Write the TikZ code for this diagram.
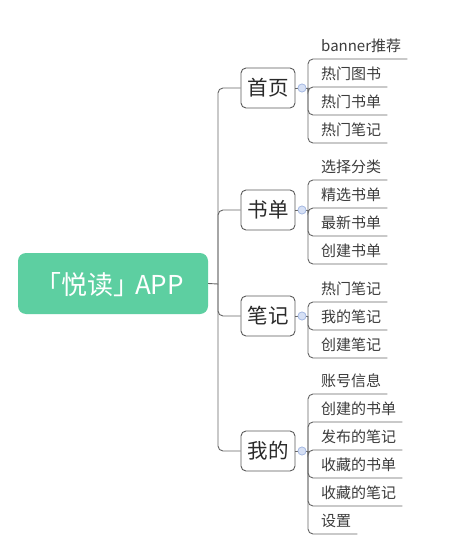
\documentclass[tikz,border=0pt]{standalone}
\usepackage{fontspec}
\setmainfont{Noto Sans CJK SC}
\definecolor{rootgreen}{HTML}{5DCFA1}
\definecolor{linegray}{HTML}{666666}
\definecolor{boxgray}{HTML}{5A5A5A}
\definecolor{textdark}{HTML}{2A2A2A}
\definecolor{textgray}{HTML}{3C3C3C}
\definecolor{dotfill}{HTML}{D6E0F5}
\definecolor{dotdraw}{HTML}{A3B7E2}
\newcommand{\lt}[1]{\hspace*{13pt}#1\hspace*{6pt}}
\begin{document}
\begin{tikzpicture}[x=1pt,y=-1pt,
  conn/.style={draw=linegray, line width=0.9pt, rounded corners=5pt},
  rootbox/.style={fill=rootgreen, rounded corners=8pt, minimum width=190pt, minimum height=61pt, inner sep=0pt,
    text=white, font=\fontsize{26}{26}\selectfont, text height=22.8pt, text depth=1pt},
  topic/.style={draw=boxgray, fill=white, rounded corners=5pt, minimum width=54pt, minimum height=40pt, inner sep=0pt,
    line width=0.9pt, text=textdark, font=\fontsize{20.5}{20.5}\selectfont, text height=17.8pt, text depth=2.2pt},
  dot/.style={circle, fill=dotfill, draw=dotdraw, line width=0.6pt, minimum size=8pt, inner sep=0pt},
  leaf/.style={anchor=south west, inner sep=0pt, text height=11pt, text depth=7.5pt, text=textgray,
    font=\fontsize{15}{15}\selectfont}]
\useasboundingbox (0,0) rectangle (452,545);
\fill[white] (0,0) rectangle (452,545);

% root
\node[rootbox] (root) at (113,283.5) {「悦读」\kern-4pt APP\hspace*{7pt}};
\coordinate (J0) at (218,284);

% topics
\node[topic] (t1) at (268,88) {首页};
\node[topic] (t2) at (268,210) {书单};
\node[topic] (t3) at (268,316) {笔记};
\node[topic] (t4) at (268,451) {我的};

\node[dot] (c1) at (302,88) {};
\node[dot] (c2) at (302,210) {};
\node[dot] (c3) at (302,316) {};
\node[dot] (c4) at (302,451) {};

\coordinate (j1) at (308,88);
\coordinate (j2) at (308,210);
\coordinate (j3) at (308,316);
\coordinate (j4) at (308,451);

% leaves
\node[leaf] (a1) at (308,59) {\lt{banner推荐}};
\node[leaf] (a2) at (308,87) {\lt{热门图书}};
\node[leaf] (a3) at (308,115) {\lt{热门书单}};
\node[leaf] (a4) at (308,143) {\lt{热门笔记}};

\node[leaf] (b1) at (308,180) {\lt{选择分类}};
\node[leaf] (b2) at (308,208) {\lt{精选书单}};
\node[leaf] (b3) at (308,236) {\lt{最新书单}};
\node[leaf] (b4) at (308,264) {\lt{创建书单}};

\node[leaf] (d1) at (308,302) {\lt{热门笔记}};
\node[leaf] (d2) at (308,330) {\lt{我的笔记}};
\node[leaf] (d3) at (308,358) {\lt{创建笔记}};

\node[leaf] (e1) at (308,394) {\lt{账号信息}};
\node[leaf] (e2) at (308,422) {\lt{创建的书单}};
\node[leaf] (e3) at (308,450) {\lt{发布的笔记}};
\node[leaf] (e4) at (308,478) {\lt{收藏的书单}};
\node[leaf] (e5) at (308,506) {\lt{收藏的笔记}};
\node[leaf] (e6) at (308,534) {\lt{设置}};

% root connectors
\draw[conn] (root.east) -- (J0);
\draw[conn] (J0) |- (t1.west);
\draw[conn] (J0) |- (t2.west);
\draw[conn] (J0) |- (t3.west);
\draw[conn] (J0) |- (t4.west);

% topic to dot
\foreach \i in {1,2,3,4} {
  \draw[conn] (t\i.east) -- (c\i.west);
  \draw[conn] (c\i.east) -- (j\i);
}
\foreach \i in {1,2,3,4} \node[dot] at (c\i) {};

% leaf connectors
\draw[conn] (j1) |- (a1.south east);
\draw[conn] (j1) -- (a2.south west) -- (a2.south east);
\draw[conn] (j1) |- (a3.south east);
\draw[conn] (j1) |- (a4.south east);

\draw[conn] (j2) |- (b1.south east);
\draw[conn] (j2) -- (b2.south west) -- (b2.south east);
\draw[conn] (j2) |- (b3.south east);
\draw[conn] (j2) |- (b4.south east);

\draw[conn] (j3) |- (d1.south east);
\draw[conn] (j3) |- (d2.south east);
\draw[conn] (j3) |- (d3.south east);

\draw[conn] (j4) |- (e1.south east);
\draw[conn] (j4) |- (e2.south east);
\draw[conn] (j4) -- (e3.south west) -- (e3.south east);
\draw[conn] (j4) |- (e4.south east);
\draw[conn] (j4) |- (e5.south east);
\draw[conn] (j4) |- (e6.south east);
\end{tikzpicture}
\end{document}
